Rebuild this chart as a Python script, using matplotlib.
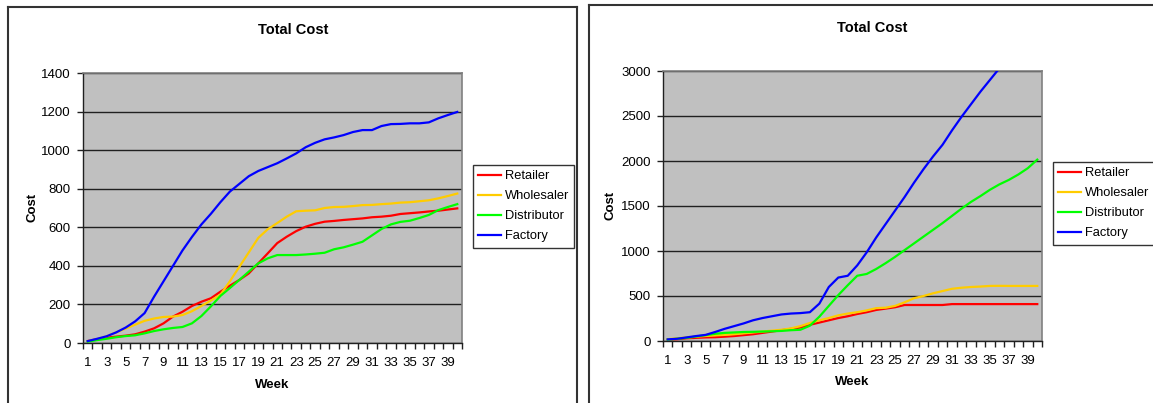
"""Two 'Total Cost' beer-game charts side by side, Excel style."""
import numpy as np
from matplotlib import pyplot as plt
from matplotlib.lines import Line2D
from matplotlib.ticker import MultipleLocator, FixedLocator

plt.rcParams['font.family'] = ['Liberation Sans', 'DejaVu Sans']

W, H = 1153, 403

weeks = np.arange(1, 41)
series_names = ['Retailer', 'Wholesaler', 'Distributor', 'Factory']
series_colors = ['#FF0000', '#FFCC00', '#00FF00', '#0000FF']

# left chart
left_retailer = [10, 20, 28, 33, 38, 45, 59, 76, 102, 137,
                 162, 192, 214, 232, 266, 297, 327, 361, 413, 465,
                 518, 551, 580, 603, 618, 629, 633, 638, 642, 646,
                 652, 655, 660, 669, 673, 677, 682, 686, 692, 698]
left_wholesaler = [10, 20, 35, 55, 75, 95, 115, 127, 135, 137,
                   145, 165, 192, 220, 250, 320, 395, 470, 545, 590,
                   622, 655, 683, 686, 688, 700, 705, 706, 710, 715,
                   716, 720, 723, 728, 730, 735, 740, 750, 762, 775]
left_distributor = [7, 15, 22, 30, 36, 40, 50, 62, 71, 78,
                    83, 102, 140, 190, 244, 285, 327, 370, 413, 439,
                    456, 456, 456, 459, 463, 468, 486, 496, 510, 525,
                    558, 591, 615, 628, 634, 648, 664, 689, 705, 720]
left_factory = [10, 22, 35, 55, 80, 112, 155, 240, 320, 400,
                480, 550, 615, 670, 730, 785, 825, 865, 892, 912,
                932, 957, 983, 1015, 1038, 1056, 1066, 1078, 1094, 1104,
                1104, 1125, 1135, 1136, 1139, 1139, 1144, 1165, 1182, 1198]

# right chart
right_retailer = [15, 20, 30, 35, 40, 42, 48, 55, 65, 75,
                  90, 105, 120, 135, 150, 180, 205, 230, 255, 275,
                  300, 320, 345, 360, 375, 400, 400, 400, 400, 400,
                  410, 410, 410, 410, 410, 410, 410, 410, 410, 410]
right_wholesaler = [20, 30, 40, 48, 56, 62, 68, 75, 85, 95,
                    105, 115, 125, 140, 165, 200, 230, 255, 285, 305,
                    320, 340, 365, 370, 390, 430, 475, 500, 530, 555,
                    580, 592, 600, 605, 612, 613, 612, 612, 612, 612]
right_distributor = [15, 25, 35, 50, 65, 80, 90, 95, 100, 102,
                     105, 108, 112, 120, 125, 170, 270, 390, 510, 620,
                     725, 745, 800, 865, 935, 1010, 1085, 1160, 1235, 1310,
                     1390, 1470, 1545, 1610, 1680, 1740, 1790, 1850, 1920, 2015]
right_factory = [18, 25, 40, 55, 68, 100, 135, 165, 195, 230,
                 255, 275, 295, 305, 310, 320, 415, 600, 705, 725,
                 840, 985, 1150, 1300, 1450, 1600, 1760, 1910, 2050, 2180,
                 2340, 2490, 2630, 2770, 2900, 3030, 3170, 3310, 3450, 3590]

x_labels = [str(w) for w in range(1, 40, 2)]


def fx(x):
    return x / W


def fy(y):
    return 1 - y / H


def draw_chart(fig, rect, data, ymax, ystep, title_xy, cost_xy, week_xy, legend_xy):
    x0, y0, x1, y1 = rect
    ax = fig.add_axes([fx(x0), fy(y1), fx(x1) - fx(x0), fy(y0) - fy(y1)])
    ax.set_facecolor('#C0C0C0')

    for values, name, color in zip(data, series_names, series_colors):
        ax.plot(weeks, values, color=color, lw=1.6, label=name, zorder=3)

    ax.set_xlim(0.5, 40.5)
    ax.set_ylim(0, ymax)
    ax.yaxis.set_major_locator(MultipleLocator(ystep))
    ax.grid(axis='y', color='#202020', lw=1.0, zorder=1)
    ax.set_axisbelow(True)

    ax.xaxis.set_major_locator(FixedLocator(range(1, 40, 2)))
    ax.set_xticklabels(x_labels)
    ax.xaxis.set_minor_locator(FixedLocator(np.arange(0.5, 41, 1)))
    ax.tick_params(axis='x', which='major', length=0, pad=10, labelsize=9.5)
    ax.tick_params(axis='x', which='minor', length=4, width=1, color='#202020')
    ax.tick_params(axis='y', length=4, width=1, color='#202020', pad=5, labelsize=9.5)

    for side in ['top', 'right']:
        ax.spines[side].set_color('#808080')
        ax.spines[side].set_linewidth(1.2)
    for side in ['left', 'bottom']:
        ax.spines[side].set_color('#202020')
        ax.spines[side].set_linewidth(1.0)

    fig.text(fx(title_xy[0]), fy(title_xy[1]), 'Total Cost', ha='center', va='center',
             fontsize=10.5, fontweight='bold')
    fig.text(fx(cost_xy[0]), fy(cost_xy[1]), 'Cost', ha='center', va='center',
             rotation=90, fontsize=9.5, fontweight='bold')
    fig.text(fx(week_xy[0]), fy(week_xy[1]), 'Week', ha='center', va='center',
             fontsize=9.5, fontweight='bold')

    leg = ax.legend(loc='upper left', bbox_to_anchor=(fx(legend_xy[0]), fy(legend_xy[1])),
                    bbox_transform=fig.transFigure,
                    fontsize=9.3, frameon=True, fancybox=False, edgecolor='#000000',
                    handlelength=1.75, handletextpad=0.3, labelspacing=0.62,
                    borderpad=0.4, borderaxespad=0)
    leg.get_frame().set_linewidth(1.0)
    return ax


fig = plt.figure(figsize=(W / 100, H / 100), dpi=100)

# panel frames
frame_kw = dict(color='#333333', lw=1.5, transform=fig.transFigure)
fig.add_artist(Line2D([fx(8), fx(8)], [fy(7), fy(H + 5)], **frame_kw))
fig.add_artist(Line2D([fx(8), fx(577)], [fy(7), fy(7)], **frame_kw))
fig.add_artist(Line2D([fx(577), fx(577)], [fy(7), fy(H + 5)], **frame_kw))
fig.add_artist(Line2D([fx(589), fx(589)], [fy(5), fy(H + 5)], **frame_kw))
fig.add_artist(Line2D([fx(589), fx(W + 5)], [fy(5), fy(5)], **frame_kw))

draw_chart(fig, (83, 73, 462, 343),
           [left_retailer, left_wholesaler, left_distributor, left_factory],
           1400, 200, (293, 30), (32, 207), (272, 385), (473, 165))

draw_chart(fig, (663, 71, 1042, 341),
           [right_retailer, right_wholesaler, right_distributor, right_factory],
           3000, 500, (872, 28), (611, 205), (852, 382), (1053, 162))

fig.savefig('out.png', dpi=100)
